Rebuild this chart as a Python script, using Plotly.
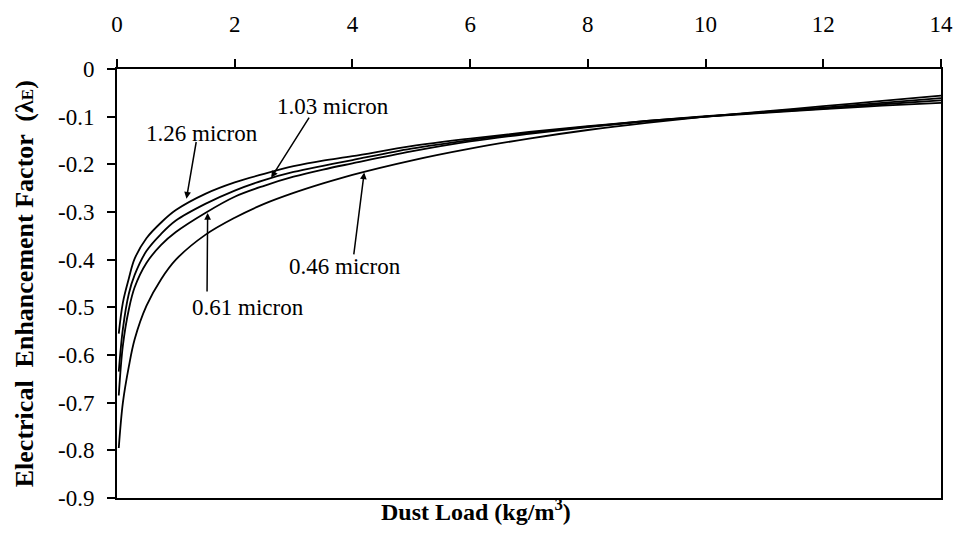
import plotly.graph_objects as go

# Dust load (kg/m^3)
dust_load = [0.03, 0.1, 0.2, 0.3, 0.5, 0.75, 1.0, 1.5, 2.0, 2.5, 3.0, 3.5, 4.0,
             5.0, 6.0, 7.0, 8.0, 9.0, 10.0, 11.0, 12.0, 13.0, 14.0]

# Electrical enhancement factor for each particle size
lam_126 = [-0.555, -0.49, -0.44, -0.398, -0.355, -0.322, -0.296, -0.262, -0.238, -0.220,
           -0.204, -0.192, -0.183, -0.162, -0.146, -0.132, -0.120, -0.109, -0.100,
           -0.092, -0.084, -0.077, -0.071]
lam_103 = [-0.635, -0.545, -0.472, -0.432, -0.382, -0.346, -0.318, -0.283, -0.255, -0.233,
           -0.216, -0.203, -0.191, -0.167, -0.149, -0.134, -0.121, -0.109, -0.099,
           -0.091, -0.083, -0.074, -0.066]
lam_061 = [-0.685, -0.58, -0.505, -0.458, -0.407, -0.369, -0.342, -0.302, -0.268, -0.245,
           -0.226, -0.211, -0.198, -0.173, -0.152, -0.136, -0.122, -0.110, -0.100,
           -0.090, -0.081, -0.071, -0.061]
lam_046 = [-0.795, -0.70, -0.625, -0.567, -0.497, -0.441, -0.40, -0.348, -0.312, -0.283,
           -0.260, -0.240, -0.222, -0.192, -0.167, -0.146, -0.128, -0.113, -0.100,
           -0.089, -0.078, -0.067, -0.056]

series = [("1.26 micron", lam_126), ("1.03 micron", lam_103),
          ("0.61 micron", lam_061), ("0.46 micron", lam_046)]

x_ticks = [0, 2, 4, 6, 8, 10, 12, 14]
y_ticks = [0, -0.1, -0.2, -0.3, -0.4, -0.5, -0.6, -0.7, -0.8, -0.9]
y_tick_text = ["0", "-0.1", "-0.2", "-0.3", "-0.4", "-0.5", "-0.6", "-0.7", "-0.8", "-0.9"]

# label text position, arrow tail, arrow head (data units)
labels = [
    ("1.26 micron", (1.45, -0.136), (1.35, -0.150), (1.18, -0.272)),
    ("1.03 micron", (3.67, -0.079), (3.28, -0.099), (2.62, -0.228)),
    ("0.46 micron", (3.87, -0.414), (4.02, -0.392), (4.20, -0.217)),
    ("0.61 micron", (2.22, -0.500), (1.53, -0.470), (1.54, -0.302)),
]

FONT = "Liberation Serif, Times New Roman, serif"

fig = go.Figure()
for name, vals in series:
    fig.add_trace(go.Scatter(x=dust_load, y=vals, mode="lines", name=name,
                             line=dict(color="black", width=1.8, shape="spline"),
                             showlegend=False))

for text, (tx, ty), (ax, ay), (hx, hy) in labels:
    fig.add_annotation(x=tx, y=ty, text=text, showarrow=False,
                       font=dict(family=FONT, size=23, color="black"))
    fig.add_annotation(x=hx, y=hy, ax=ax, ay=ay, axref="x", ayref="y", text="",
                       showarrow=True, arrowhead=2, arrowsize=0.9, arrowwidth=1.5,
                       arrowcolor="black")

fig.add_annotation(xref="paper", yref="paper", x=0.436, y=-0.068,
                   text="<b>Dust Load (kg/m<sup>3</sup>)</b>", showarrow=False,
                   font=dict(family=FONT, size=24, color="black"))
fig.add_annotation(xref="paper", yref="paper", x=-0.132, y=0.50, textangle=-90,
                   text="<b>Electrical  Enhancement Factor  (λ<span style='font-size:17px'>E</span>)</b>",
                   showarrow=False, font=dict(family=FONT, size=26, color="black"))

fig.update_xaxes(range=[0, 14], side="top", tickvals=x_ticks,
                 ticks="outside", ticklen=8, tickwidth=1.5, tickcolor="black",
                 showline=True, linecolor="black", linewidth=2, mirror=True,
                 showgrid=False, zeroline=False, ticklabelstandoff=18,
                 tickfont=dict(family=FONT, size=23, color="black"))
fig.update_yaxes(range=[-0.9, 0], tickvals=y_ticks, ticktext=y_tick_text,
                 ticks="outside", ticklen=8, tickwidth=1.5, tickcolor="black",
                 showline=True, linecolor="black", linewidth=2, mirror=True,
                 showgrid=False, zeroline=False, ticklabelstandoff=8,
                 tickfont=dict(family=FONT, size=23, color="black"))

fig.update_layout(width=965, height=549, margin=dict(l=117, r=20, t=60, b=51),
                  paper_bgcolor="white", plot_bgcolor="white")

fig.write_html("out.html")
